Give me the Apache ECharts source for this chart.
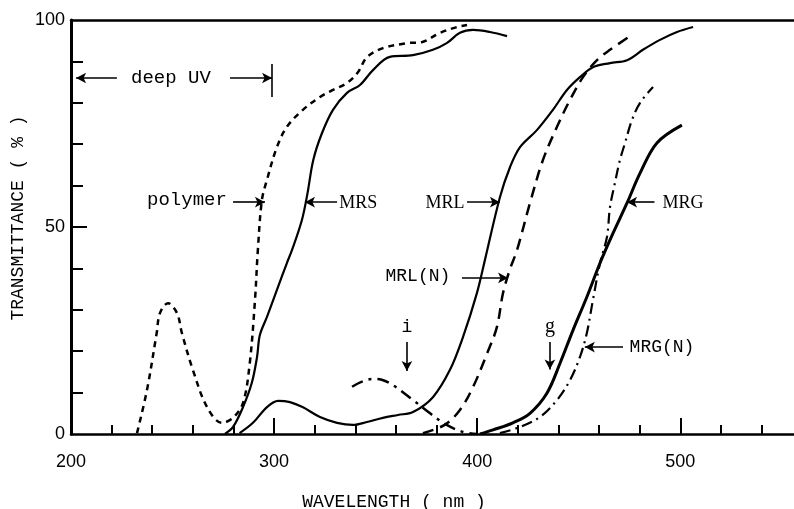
<!DOCTYPE html>
<html>
<head>
<meta charset="utf-8">
<title>Transmittance</title>
<script src="https://cdn.jsdelivr.net/npm/echarts@6/dist/echarts.min.js"></script>
<style>
  html, body { margin: 0; padding: 0; background: #fff; }
  #chart { width: 794px; height: 509px; }
</style>
</head>
<body>
<div id="chart"></div>
<script>
// tick values
var xLabels = [200, 300, 400, 500];
var xMinorTicks = [220, 240, 260, 280, 320, 340, 360, 380, 420, 440, 460, 480, 520, 540];
var xMajorTicks = [300, 400, 500];
var yLabels = [0, 50, 100];
var yMinorTicks = [10, 20, 30, 40, 60, 70, 80, 90];
var yMajorTicks = [50];

// curves, [wavelength nm, transmittance %]
var polymer = [[232.5,0.2],[237.4,10.6],[242.2,24.4],[243.8,29.2],[247.8,31.6],[252.2,29.2],[254.6,24.4],[260,15.5],[267,6.5],[274.3,2.7],[279.8,3.9],[284.7,7.5],[288,17],[290.6,32.4],[292,44.4],[294,56.5],[296.5,61.4],[301.4,69.3],[306.3,74.2],[314.2,78.3],[322.6,81.4],[329,83.1],[335.9,84.8],[341.3,87.4],[345.7,91],[353.6,93.2],[365.4,94.4],[373,94.7],[381.7,96.9],[390,98.3],[395,98.8]];
var mrs = [[275.8,0],[279.8,1.7],[284.7,6.5],[289,12.3],[291.6,18.6],[293,23.9],[296.5,28.3],[301.4,34.8],[306.3,41.3],[308.8,44.4],[313.7,51.7],[316.4,58],[319.3,66.2],[323.6,72.7],[329,78.3],[335.9,82.4],[342.3,84.3],[348.7,87.9],[357,91.1],[368.4,91.5],[378.2,92.8],[385,94.4],[391.5,96.9],[398,97.6],[406.3,97.1],[414.7,96.1]];
var mrl = [[283,0.2],[289.6,2.7],[296.5,6.5],[302,8],[307.8,7.7],[314,6.5],[322.6,4.1],[331,2.7],[338.8,2.2],[345.7,2.9],[353.6,3.9],[361,4.6],[368.4,5.3],[378.2,8.9],[386.6,15.5],[393,23.4],[399.9,34.1],[403.8,42],[411.2,57.2],[416.2,64.5],[421.1,69.3],[429.4,73.4],[437.3,78.3],[444.2,83.1],[450.6,86.2],[457,88.6],[465.4,89.6],[473.8,90.3],[481.6,92.8],[490,95.2],[498.4,97.1],[506.3,98.3]];
var mrlN = [[373.3,0.2],[384,2.2],[391.5,5.8],[398,11.4],[405,19.6],[409.7,25.8],[412.7,34],[416,39.6],[419.6,44.4],[426,55.8],[432.4,66.2],[439.3,74.2],[445.7,80.7],[452.1,86.2],[459,90.3],[465.4,92.8],[476.2,96.4]];
var mrg = [[401.4,0],[407.8,1],[417.6,2.7],[426,5],[434.4,9.9],[440.8,17.1],[447.2,25.1],[454,33.1],[460.5,41.3],[466.9,48.5],[473.8,55.8],[480.2,63],[488.5,70.3],[500.8,74.6]];
var mrgN = [[411.2,0.2],[421.1,1.7],[430.9,4.1],[439.3,8.2],[445.7,13],[450.6,18.6],[454,24.4],[457,32.4],[460.5,41.3],[463.9,47.6],[465.4,54.8],[467.8,60.6],[470.3,66.2],[472.8,70.3],[476.2,75.8],[480.2,80],[486.6,83.8]];
var iBand = [[338.4,11.4],[343,12.6],[348.7,13.3],[353,13.1],[358.5,11.8],[368.4,8.2],[376.8,5],[385,2.2],[393,0.5],[400,0]];

// annotation arrows [x1, y1, x2, y2] (arrow head at x2,y2)
var arrows = [
  [222.6, 86, 202.5, 86],
  [278.3, 86, 299, 86],
  [279.8, 56, 295.5, 56],
  [331, 56, 315.2, 56],
  [395, 56, 411.2, 56],
  [487.3, 56, 473.8, 56],
  [392.5, 37.7, 415.2, 37.7],
  [471.8, 21, 453, 21],
  [365.4, 22.2, 365.4, 15.2],
  [435.8, 22.2, 435.8, 15.6]
];
var bars = [[299, 81.4, 299, 89.4]];
// annotation texts [text, x, y, font, size]
var mono = 'Liberation Mono';
var serif = 'Liberation Serif';
var notes = [
  ['deep UV', 249.2, 86, mono, 19],
  ['polymer', 257.1, 56.5, mono, 19],
  ['MRS', 341.5, 55.8, serif, 18],
  ['MRL', 384.1, 55.8, serif, 18],
  ['MRG', 501.3, 55.8, serif, 18],
  ['MRL(N)', 370.8, 38, mono, 18],
  ['MRG(N)', 491, 21, mono, 18],
  ['i', 365.4, 25.8, mono, 18],
  ['g', 435.8, 26, serif, 20]
];

var myChart = echarts.init(document.getElementById('chart'));

function curve(data, width, type) {
  return {
    type: 'line',
    data: data,
    symbol: 'none',
    smooth: 0.35,
    silent: true,
    lineStyle: { color: '#000', width: width, type: type }
  };
}

var arrowLines = arrows.map(function (a) {
  return [{ coord: [a[0], a[1]] }, { coord: [a[2], a[3]] }];
});
bars.forEach(function (b) {
  arrowLines.push([{ coord: [b[0], b[1]], symbol: 'none' }, { coord: [b[2], b[3]], symbol: 'none' }]);
});

var notePoints = notes.map(function (n) {
  return {
    coord: [n[1], n[2]],
    symbolSize: 0,
    label: {
      show: true,
      position: 'inside',
      formatter: n[0],
      color: '#000',
      fontFamily: n[3],
      fontSize: n[4]
    }
  };
});

var tickStyle = { color: '#000', width: 2 };

myChart.setOption({
  animation: false,
  backgroundColor: '#fff',
  grid: { left: 71, right: 0, top: 20, bottom: 75 },
  xAxis: [
    {
      type: 'value', min: 200, max: 556, position: 'bottom',
      axisLine: { lineStyle: { color: '#000', width: 2.5 } },
      axisTick: { inside: true, length: 9, customValues: xMinorTicks, lineStyle: tickStyle },
      axisLabel: { customValues: xLabels, margin: 19, color: '#000', fontFamily: 'Liberation Sans', fontSize: 18 },
      splitLine: { show: false }
    },
    {
      type: 'value', min: 200, max: 556, position: 'bottom',
      axisLine: { show: false },
      axisTick: { inside: true, length: 16, customValues: xMajorTicks, lineStyle: tickStyle },
      axisLabel: { show: false },
      splitLine: { show: false }
    },
    {
      type: 'value', min: 200, max: 556, position: 'top',
      axisLine: { lineStyle: { color: '#000', width: 2.5 } },
      axisTick: { show: false },
      axisLabel: { show: false },
      splitLine: { show: false }
    }
  ],
  yAxis: [
    {
      type: 'value', min: 0, max: 100, position: 'left',
      axisLine: { show: true, lineStyle: { color: '#000', width: 3 } },
      axisTick: { show: true, inside: true, length: 12, customValues: yMinorTicks, lineStyle: tickStyle },
      axisLabel: { customValues: yLabels, margin: 6, color: '#000', fontFamily: 'Liberation Sans', fontSize: 18 },
      splitLine: { show: false }
    },
    {
      type: 'value', min: 0, max: 100, position: 'left',
      axisLine: { show: false },
      axisTick: { show: true, inside: true, length: 16, customValues: yMajorTicks, lineStyle: tickStyle },
      axisLabel: { show: false },
      splitLine: { show: false }
    }
  ],
  graphic: [
    {
      type: 'text', x: 394, y: 502,
      style: { text: 'WAVELENGTH ( nm )', font: '18px "Liberation Mono"', fill: '#000', align: 'center', verticalAlign: 'middle' }
    },
    {
      type: 'text', x: 18, y: 218, rotation: Math.PI / 2,
      style: { text: 'TRANSMITTANCE ( % )', font: '18px "Liberation Mono"', fill: '#000', align: 'center', verticalAlign: 'middle' }
    }
  ],
  series: [
    curve(polymer, 2.5, [6, 5]),
    curve(mrs, 2.2, 'solid'),
    curve(mrl, 2.2, 'solid'),
    curve(mrlN, 2.5, [11, 7]),
    curve(mrg, 3, 'solid'),
    curve(mrgN, 2.2, [11, 5, 2, 5]),
    curve(iBand, 2.5, [12, 6, 3, 6]),
    {
      type: 'line',
      data: [],
      silent: true,
      markLine: {
        silent: true,
        symbol: ['none', 'arrow'],
        symbolSize: [8, 10],
        lineStyle: { color: '#000', width: 1.6, type: 'solid' },
        label: { show: false },
        emphasis: { disabled: true },
        data: arrowLines
      },
      markPoint: {
        silent: true,
        symbol: 'circle',
        data: notePoints
      }
    }
  ]
});

window.addEventListener('resize', function () {
  setTimeout(function () { myChart.resize(); }, 100);
});
</script>
</body>
</html>
